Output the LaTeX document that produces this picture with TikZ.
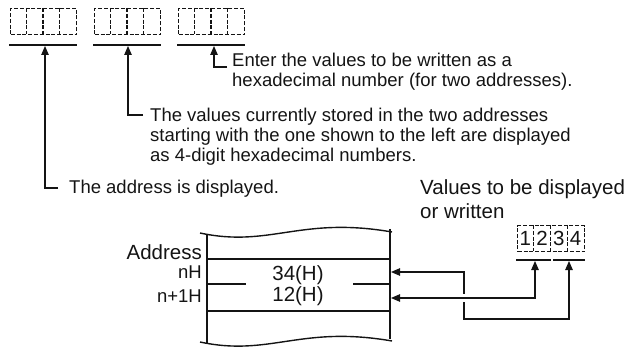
\documentclass[tikz,border=0pt]{standalone}
\usepackage{fontspec}
\setmainfont{Liberation Sans}
\usetikzlibrary{arrows.meta}
\definecolor{inkDark}{RGB}{20,20,20}

\begin{document}
\begin{tikzpicture}[x=1pt,y=-1pt,
  txt/.style={font=\fontsize{18.5}{20}\selectfont,inner sep=0pt,align=left,text=inkDark},
  big/.style={font=\fontsize{20.5}{24}\selectfont,inner sep=0pt,text=inkDark},
  digitbox/.style={draw=inkDark,dash pattern=on 4pt off 1.8pt,line width=1.4pt,
                minimum height=26pt,inner sep=0pt},
  celldiv/.style={draw=inkDark,dash pattern=on 4pt off 1.8pt,line width=1.4pt},
  bar/.style={draw=inkDark,line width=1.6pt},
  wall/.style={draw=inkDark,line width=1.4pt},
  ptr/.style={draw=inkDark,line width=1.1pt,-{Triangle[length=9pt,width=7.5pt]}},
  rptr/.style={draw=inkDark,line width=1.1pt,{Triangle[length=9pt,width=7.5pt]}-},
  dptr/.style={draw=inkDark,line width=1.1pt,
               {Triangle[length=9pt,width=7.5pt]}-{Triangle[length=9pt,width=7.5pt]}}
]
\useasboundingbox (0,0) rectangle (634,347);

% ---- digit groups (top) ----
\def\cw{16.5}
\foreach \nm/\X in {grpA/10,grpB/94,grpC/178}{
  \node[digitbox,minimum width=66pt,anchor=north west] (\nm) at (\X,8) {};
  \foreach \k in {1,2,3}
    \draw[celldiv] (\X+\k*\cw,8) -- (\X+\k*\cw,34);
  \draw[bar] (\X-1,45) -- (\X+67,45);
}
\coordinate (tipA) at (45,46);
\coordinate (tipB) at (128,46);
\coordinate (tipC) at (214,46);

% ---- notes (base = last line) ----
\node[txt,anchor=base west] (noteC) at (232,87)
  {Enter the values to be written as a\\hexadecimal number (for two addresses).};
\node[txt,anchor=base west] (noteB) at (150,162)
  {The values currently stored in the two addresses\\starting with the one shown to the left are displayed\\as 4-digit hexadecimal numbers.};
\node[txt,anchor=base west] (noteA) at (69,194) {The address is displayed.};

\coordinate (elbC) at (227,67);
\coordinate (elbB) at (143,115);
\coordinate (elbA) at (58,188);
\draw[ptr] (elbC) -| (tipC);
\draw[ptr] (elbB) -| (tipB);
\draw[ptr] (elbA) -| (tipA);

% ---- values to be displayed or written ----
\node[big,anchor=base west,align=left] (valNote) at (420,219)
  {Values to be displayed\\or written};
\def\dw{16.75}
\node[digitbox,minimum width=67pt,anchor=north west] (digs) at (517,225) {};
\foreach \k in {1,2,3}
  \draw[celldiv] (517+\k*\dw,225) -- (517+\k*\dw,251);
\foreach \d [count=\i] in {1,2,3,4}
  \node[big] (dig\i) at (517+\i*\dw-\dw/2,238) {\d};
\draw[bar] (516,260) -- (551,260);
\draw[bar] (553,260) -- (585,260);
\coordinate (tipL) at (535,261);
\coordinate (tipR) at (569,261);

% ---- memory strip ----
\def\xl{207}
\def\xr{390}
\draw[wall] (\xl,235) -- (\xl,344);
\draw[wall] (\xr,229) -- (\xr,339);
\draw[wall] (200,233) .. controls (270,248) and (300,216) .. (392,232);
\draw[wall] (200,342) .. controls (270,357) and (300,325) .. (392,341);
\draw[wall] (\xl,259) -- (\xr,259);
\draw[wall] (\xl,284) -- (246,284);
\draw[wall] (353,284) -- (\xr,284);
\draw[wall] (\xl,311) -- (\xr,311);

\node[big,anchor=base east] (lblAddr) at (202,259) {Address};
\node[txt,anchor=base east] (lblN) at (202,279) {nH};
\node[txt,anchor=base east] (lblN1) at (202,302) {n+1H};
\node[big,anchor=base] (cellHi) at (298,280) {34(H)};
\node[big,anchor=base] (cellLo) at (298,301) {12(H)};

% ---- read / write links ----
\coordinate (inHi) at (391,272);
\coordinate (inLo) at (391,298);
\coordinate (crossTop) at (464,294);
\coordinate (crossBot) at (464,302);
\draw[dptr] (inLo) -| (tipL);
\draw[rptr] (inHi) -| (crossTop);
\draw[ptr] (crossBot) -- ++(0,17) -| (tipR);

\end{tikzpicture}
\end{document}
